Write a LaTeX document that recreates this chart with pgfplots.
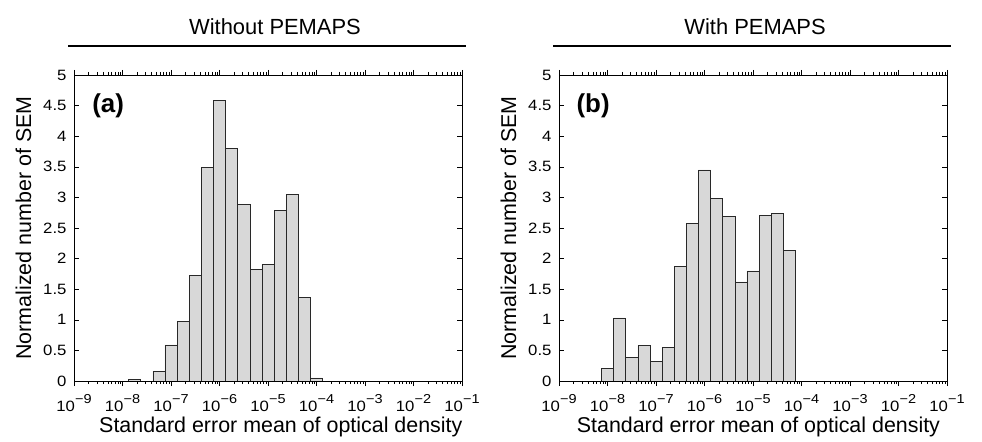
\documentclass[border=0pt]{standalone}
\usepackage{fontspec}
\setmainfont{Liberation Sans}
\newfontfamily\tickfont[FakeStretch=1.12]{Liberation Sans}
\usepackage{pgfplots}
\usepackage{pgfplotstable}
\pgfplotsset{compat=1.18}
\definecolor{barfill}{RGB}{216,216,216}
\definecolor{baredge}{RGB}{40,40,40}

% minor ticks at log positions, x axis is the exponent
\def\minorlist{-9}
\foreach \d in {-9,...,-2}{%
  \foreach \m in {0.30103,0.47712,0.60206,0.69897,0.77815,0.84510,0.90309,0.95424}{%
    \pgfmathparse{\d+\m}\xdef\minorlist{\minorlist,\pgfmathresult}}}

\newcommand\tenpow[1]{10\raisebox{8.5bp}{\fontsize{13}{15}\selectfont −#1}}
\newcommand\labelfont{\fontsize{21.5}{25}\selectfont}
\newcommand\tickfontsize{\tickfont\fontsize{15}{17}\selectfont}

% bin centres (log10 of SEM) and normalized counts
\pgfplotstableread{
x      y
-7.75  0.02
-7.25  0.16
-7.00  0.59
-6.75  0.97
-6.50  1.72
-6.25  3.49
-6.00  4.58
-5.75  3.80
-5.50  2.89
-5.25  1.83
-5.00  1.90
-4.75  2.79
-4.50  3.05
-4.25  1.36
-4.00  0.05
}\withoutpemaps

\pgfplotstableread{
x      y
-8.00  0.20
-7.75  1.03
-7.50  0.39
-7.25  0.58
-7.00  0.32
-6.75  0.55
-6.50  1.87
-6.25  2.58
-6.00  3.45
-5.75  2.99
-5.50  2.69
-5.25  1.62
-5.00  1.80
-4.75  2.70
-4.50  2.74
-4.25  2.13
}\withpemaps

\pgfplotsset{hist/.style={
    scale only axis, width=388bp, height=306bp,
    xmin=-9, xmax=-1, ymin=0, ymax=5,
    xtick={-9,...,-1},
    xticklabels={\tenpow9,\tenpow8,\tenpow7,\tenpow6,\tenpow5,
      \tenpow4,\tenpow3,\tenpow2,\tenpow1},
    minor xtick=\minorlist,
    ytick={0,0.5,...,5},
    yticklabel={\pgfmathprintnumber[fixed,precision=1,assume math mode=true]{\tick}},
    tick align=inside,
    major tick length=5bp, minor tick length=3bp,
    tick style={black, line width=0.5pt},
    axis line style={line width=0.8pt},
    every x tick label/.style={font=\tickfontsize, anchor=base, yshift=-25.7bp},
    every y tick label/.style={font=\tickfontsize, anchor=east, xshift=-4bp},
    xlabel={Standard error mean of optical density},
    ylabel={Normalized number of SEM},
    every axis y label/.style={at={(axis description cs:-0.130,0.5)},
      rotate=90, anchor=center, font=\labelfont},
    ybar, bar width=0.25,
}}

\begin{document}
\begin{tikzpicture}
\useasboundingbox (0,0) rectangle (982bp,442bp);

\begin{axis}[hist, at={(74bp,61bp)}, anchor=south west,
    every axis x label/.style={at={(axis description cs:0.533,-0.1667)},
      anchor=base, font=\labelfont}]
\addplot[fill=barfill, draw=baredge, line width=0.6pt] table {\withoutpemaps};
\node[font=\fontsize{26}{30}\bfseries] at (rel axis cs:0.088,0.90) {(a)};
\end{axis}

\begin{axis}[hist, at={(559bp,61bp)}, anchor=south west,
    every axis x label/.style={at={(axis description cs:0.514,-0.1667)},
      anchor=base, font=\labelfont}]
\addplot[fill=barfill, draw=baredge, line width=0.6pt] table {\withpemaps};
\node[font=\fontsize{26}{30}\bfseries] at (rel axis cs:0.088,0.90) {(b)};
\end{axis}

\node[font=\fontsize{22}{26}\selectfont, anchor=base] at (275bp,407bp) {Without PEMAPS};
\draw[line width=1.4pt] (68bp,396bp) -- (466bp,396bp);
\node[font=\fontsize{22}{26}\selectfont, anchor=base] at (755bp,407bp) {With PEMAPS};
\draw[line width=1.4pt] (553bp,396bp) -- (951bp,396bp);
\end{tikzpicture}
\end{document}
